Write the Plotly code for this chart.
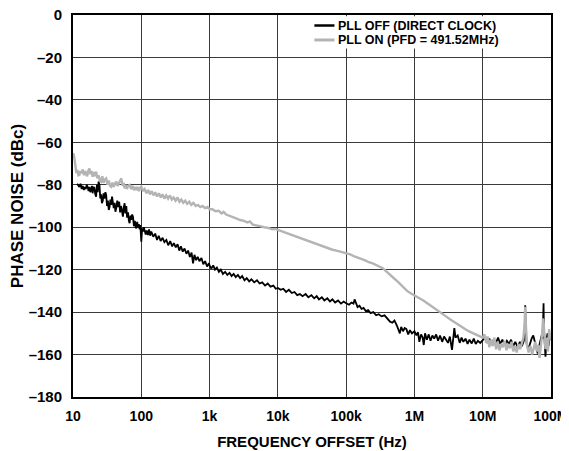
import plotly.graph_objects as go

# ---------------------------------------------------------------
# data
# ---------------------------------------------------------------
pll_off_freq = [
    11.5, 12.0, 12.4, 12.9, 13.4, 13.9, 14.4, 14.9, 15.4, 15.9, 16.4, 16.9, 17.4, 17.9,
    18.4, 18.9, 19.4, 19.9, 20.6, 21.2, 21.8, 22.4, 23.0, 23.7, 24.4, 25.1, 25.8, 26.5,
    27.3, 28.0, 28.9, 29.8, 30.6, 31.5, 32.4, 33.4, 34.3, 35.3, 36.3, 37.3, 38.3, 39.5,
    40.7, 41.8, 43.0, 44.5, 46.0, 47.5, 49.0, 50.5, 52.0, 53.8, 55.5, 57.0, 58.5, 60.3,
    62.0, 64.0, 65.8, 67.5, 69.5, 71.5, 73.5, 75.6, 78.0, 80.5, 82.5, 84.5, 87.0, 89.5,
    92.0, 94.5, 97.0, 100, 103, 106, 109, 112, 116,
    120, 125, 130, 135, 140, 150, 160, 170, 180, 192, 205, 218, 233, 248, 265, 283, 300,
    320, 340, 360, 380, 405, 430, 458, 485, 515, 545, 573, 600, 635, 670, 710, 760, 810,
    860, 920, 980,
    1000, 1060, 1130, 1200, 1280, 1370, 1460, 1570, 1690, 1820, 1960, 2100, 2250, 2420,
    2600, 2800, 3000, 3250, 3500, 3800, 4100, 4500, 4950, 5400, 5900, 6500, 7100, 7800,
    8600, 9300,
    10e3, 11e3, 12e3, 13.2e3, 14.5e3, 16e3, 17.5e3, 19.2e3, 21e3, 23e3, 25.5e3, 28e3,
    31e3, 34e3, 37e3, 40e3, 44e3, 48e3, 53e3, 58e3, 63e3, 69e3, 76e3, 84e3, 92e3,
    100e3, 110e3, 120e3, 128e3, 133e3, 140e3, 147e3, 157e3, 168e3, 180e3, 194e3, 210e3,
    228e3, 250e3, 275e3, 300e3, 330e3, 365e3, 404e3, 440e3, 474e3, 510e3, 556e3, 590e3,
    611e3, 640e3, 680e3, 720e3, 763e3, 810e3, 860e3, 920e3,
    1.0e6, 1.07e6, 1.13e6, 1.18e6, 1.25e6, 1.32e6, 1.37e6, 1.43e6, 1.52e6, 1.62e6,
    1.72e6, 1.83e6, 1.95e6, 2.08e6, 2.22e6, 2.37e6, 2.55e6, 2.72e6, 2.9e6, 3.1e6, 3.3e6,
    3.45e6, 3.55e6, 3.7e6, 3.84e6, 4.0e6, 4.3e6, 4.6e6, 4.9e6, 5.2e6, 5.6e6, 6.0e6,
    6.4e6, 6.9e6, 7.4e6, 7.9e6, 8.5e6, 9.2e6,
    10e6, 10.8e6, 11.6e6, 12.5e6, 13.5e6, 14.5e6, 15.6e6, 16.8e6, 18e6, 19.4e6, 21e6,
    22.6e6, 24.3e6, 26e6, 28e6, 30e6, 32.5e6, 35e6, 37.5e6, 40e6, 41.3e6, 41.9e6,
    42.5e6, 44e6, 46.5e6, 49e6, 52e6, 55e6, 58e6, 61e6, 64e6, 67e6, 70e6, 73e6, 75.5e6,
    77e6, 77.8e6, 78.6e6, 80.5e6, 83e6, 86e6, 89e6, 92e6, 96e6, 100e6,
]
pll_off_dbc = [
    -79.5, -80.5, -81.0, -79.5, -82.0, -80.5, -82.5, -81.0, -82.0, -80.0, -81.0, -83.0, -81.0, -83.5,
    -82.5, -80.5, -84.0, -81.0, -81.5, -84.5, -85.6, -80.0, -83.5, -78.5, -80.0, -86.5, -84.5, -88.7,
    -87.5, -84.0, -86.5, -83.5, -84.8, -90.0, -87.5, -91.9, -90.5, -87.0, -89.5, -85.6, -88.0, -91.0,
    -88.5, -92.7, -91.0, -87.5, -90.5, -88.0, -93.0, -90.0, -92.0, -95.0, -90.5, -88.7, -93.5, -90.0,
    -95.5, -93.0, -97.0, -98.1, -94.5, -96.5, -94.0, -95.0, -99.5, -97.0, -100.0, -100.5, -97.5, -100.0,
    -98.5, -101.0, -99.0, -106.8, -100.5, -102.0, -100.0, -101.3, -103.5,
    -101.5, -103.7, -101.0, -104.0, -102.0, -104.5, -103.0, -106.0, -104.0, -106.5, -105.0, -107.0, -106.0, -108.5, -106.5, -109.0, -107.5,
    -109.5, -108.0, -111.0, -109.0, -111.5, -110.0, -112.5, -111.0, -114.0, -112.0, -117.0, -113.0, -115.5, -114.0, -116.0, -114.5, -117.5,
    -116.0, -118.5, -117.0,
    -118.0, -119.5, -118.0, -120.0, -119.0, -121.0, -120.0, -122.0, -121.0, -122.5, -121.5, -123.0, -122.0, -123.5,
    -122.5, -124.0, -123.0, -125.0, -124.0, -125.5, -124.5, -126.0, -125.0, -126.5, -126.0, -127.5, -126.5, -128.0,
    -127.5, -129.0,
    -128.6, -129.5, -129.0, -130.5, -129.5, -131.0, -130.5, -132.0, -131.5, -132.5, -131.5, -133.0,
    -132.0, -133.5, -132.5, -134.0, -133.0, -134.5, -133.5, -135.0, -134.0, -135.5, -134.5, -136.0, -135.0,
    -135.8, -136.5, -135.5, -136.0, -134.0, -136.5, -137.6, -137.0, -138.5, -138.0, -139.5, -139.0,
    -140.5, -140.0, -141.5, -141.0, -142.0, -141.5, -143.0, -144.5, -145.0, -144.0, -146.5, -148.5,
    -150.0, -147.0, -149.0, -147.5, -148.0, -150.5, -148.5, -150.0,
    -149.0, -151.0, -149.5, -154.0, -150.5, -152.0, -155.5, -150.0, -153.0, -150.5,
    -153.5, -151.0, -152.5, -150.5, -153.5, -151.0, -154.0, -151.5, -153.0, -154.5, -151.5,
    -155.0, -157.8, -152.5, -147.5, -152.0, -151.0, -154.5, -152.0, -154.0, -152.5, -155.0,
    -153.0, -154.8, -152.5, -155.0, -153.5, -154.5,
    -153.0, -152.0, -154.5, -152.5, -155.0, -153.0, -154.5, -152.0, -155.0, -153.0, -155.5,
    -153.5, -155.0, -153.0, -156.0, -154.0, -156.5, -154.0, -156.0, -153.5, -147.0, -136.8,
    -148.0, -155.0, -157.5, -155.0, -152.5, -151.0, -154.0, -157.5, -159.5, -156.0, -152.5, -151.0, -152.5,
    -146.0, -135.8, -147.0, -155.0, -161.0, -153.0, -150.0, -156.0, -151.5, -153.0,
]

pll_on_freq = [
    10, 10.3, 10.6, 10.9, 11.2, 11.6, 12.0, 12.4, 12.8, 13.3, 13.9, 14.5, 15.0, 15.5,
    16.1, 16.7, 17.4, 18.0, 18.7, 19.4, 20.1, 20.9, 21.8, 22.7, 23.7, 24.7, 25.8, 26.9,
    28.0, 29.3, 30.6, 32.0, 33.4, 34.8, 36.2, 37.8, 39.5, 41.2, 43.0, 45.0, 47.0, 49.0,
    51.0, 53.2, 55.0, 56.9, 59.0, 61.5, 64.0, 67.5, 71.0, 74.5, 78.0, 81.5, 84.5, 88.0,
    92.0, 96.0,
    100, 106, 112, 119, 126, 134, 142, 151, 160, 170, 181, 193, 205, 218, 232, 247, 263,
    280, 298, 318, 340, 362, 386, 412, 440, 470, 505, 540, 580, 625, 675, 730, 790, 860, 930,
    1000, 1100, 1220, 1360, 1500, 1600, 1750, 1950, 2200, 2500, 2800, 3200, 3600, 3900,
    4300, 4800, 5500, 6300, 7200, 8300, 9200,
    10e3, 11.5e3, 13e3, 15e3, 17e3, 19.5e3, 22e3, 25e3, 29e3, 33e3, 38e3, 42e3, 48e3,
    55e3, 63e3, 72e3, 85e3,
    100e3, 115e3, 132e3, 150e3, 170e3, 190e3, 215e3, 245e3, 280e3, 320e3, 345e3, 380e3,
    420e3, 465e3, 515e3, 570e3, 630e3, 700e3, 780e3, 870e3,
    1.0e6, 1.15e6, 1.35e6, 1.6e6, 1.9e6, 2.2e6, 2.5e6, 2.9e6, 3.4e6, 4.0e6, 4.6e6, 5.3e6,
    6.2e6, 7.2e6, 8.3e6, 9.2e6,
    10e6, 10.6e6, 11.2e6, 11.8e6, 12.5e6, 13.2e6, 14e6, 14.8e6, 15.7e6, 16.6e6, 17.6e6,
    18.7e6, 19.8e6, 21e6, 22.3e6, 23.6e6, 25e6, 26.5e6, 28e6, 29.7e6, 31.5e6, 33.4e6,
    35.4e6, 37.5e6, 39.5e6, 41e6, 41.9e6, 43e6, 44.5e6, 47e6, 50e6, 53e6, 56e6, 59e6,
    62e6, 65e6, 68e6, 71e6, 74e6, 76.5e6, 78e6, 80e6, 83e6, 86e6, 90e6, 94e6, 97e6, 100e6,
]
pll_on_dbc = [
    -65.2, -66.0, -68.5, -72.0, -74.5, -73.0, -75.5, -75.4, -73.5, -74.5, -72.8, -75.5, -73.5, -74.6,
    -76.0, -73.5, -72.3, -75.0, -73.5, -76.2, -74.0, -76.0, -73.8, -77.0, -75.5, -78.0, -78.5, -76.0,
    -79.0, -77.5, -77.0, -80.0, -78.0, -80.5, -80.9, -79.0, -81.0, -79.5, -78.5, -80.5, -79.0, -77.5,
    -77.0, -80.5, -79.0, -81.7, -80.0, -82.0, -80.5, -80.1, -82.0, -80.5, -82.5, -81.0, -82.5, -81.0,
    -83.0, -81.5,
    -80.9, -83.0, -82.0, -84.0, -82.5, -84.5, -83.0, -85.0, -83.5, -85.5, -84.0, -86.0, -84.5, -86.5, -85.0, -86.5, -85.0,
    -87.0, -86.0, -87.5, -86.0, -88.0, -87.0, -88.5, -87.5, -89.0, -88.0, -89.5, -88.5, -90.0, -89.5, -90.5, -90.0, -91.0, -90.5,
    -91.5, -91.5, -92.5, -92.3, -93.5, -92.8, -94.0, -94.5, -95.3, -96.0, -96.6, -97.0, -97.8, -97.3,
    -98.8, -99.0, -99.5, -100.0, -100.3, -101.0, -100.8,
    -101.3, -102.0, -102.6, -103.5, -103.9, -104.6, -105.2, -106.0, -106.8, -107.3, -108.0, -108.4, -109.3,
    -109.9, -110.6, -111.0, -111.6,
    -112.0, -112.8, -113.8, -114.3, -115.0, -115.6, -116.5, -117.0, -117.9, -118.6, -119.3, -120.6,
    -122.0, -123.3, -124.4, -125.6, -127.0, -128.7, -130.0, -131.0,
    -132.0, -133.0, -134.5, -136.2, -138.0, -139.5, -140.6, -142.0, -143.6, -145.0, -146.0, -147.6,
    -149.0, -150.0, -150.8, -151.5,
    -152.0, -150.5, -154.5, -151.5, -156.5, -153.0, -156.0, -152.0, -157.5, -154.0, -158.0,
    -155.0, -156.5, -153.5, -158.0, -155.0, -157.0, -154.0, -158.5, -156.0, -159.0, -155.0,
    -157.5, -154.5, -152.0, -146.0, -137.5, -147.0, -155.5, -159.0, -156.0, -160.0, -157.0, -154.0,
    -158.5, -155.5, -161.6, -157.0, -150.5, -143.0, -145.0, -151.0, -157.5, -152.0, -158.5, -148.0, -153.0, -150.0,
]

x_tickvals = [10, 100, 1e3, 1e4, 1e5, 1e6, 1e7, 1e8]
x_ticktext = ["10", "100", "1k", "10k", "100k", "1M", "10M", "100M"]
y_tickvals = [0, -20, -40, -60, -80, -100, -120, -140, -160, -180]
y_ticktext = ["0", "–20", "–40", "–60", "–80", "–100", "–120", "–140", "–160", "–180"]

legend_names = ["PLL OFF (DIRECT CLOCK)", "PLL ON (PFD = 491.52MHz)"]

FONT = "Liberation Sans, Arial, sans-serif"
GRID = "#3a3a3a"
GRAY = "#b4b4b4"

fig = go.Figure()
fig.add_trace(go.Scatter(
    x=pll_off_freq, y=pll_off_dbc, mode="lines", name=legend_names[0],
    line=dict(color="black", width=1.8), showlegend=False
))
fig.add_trace(go.Scatter(
    x=pll_on_freq, y=pll_on_dbc, mode="lines", name=legend_names[1],
    line=dict(color=GRAY, width=2.4), showlegend=False
))

# legend drawn by hand (tight rows like the original)
row_y = [0.9725, 0.9346]
fig.add_shape(type="rect", xref="paper", yref="paper", x0=0.49, x1=0.997, y0=0.912, y1=0.997,
              fillcolor="white", line_width=0, layer="above")
fig.add_shape(type="line", xref="paper", yref="paper", x0=0.505, x1=0.547, y0=row_y[0], y1=row_y[0],
              line=dict(color="black", width=2.5), layer="above")
fig.add_shape(type="line", xref="paper", yref="paper", x0=0.505, x1=0.547, y0=row_y[1], y1=row_y[1],
              line=dict(color=GRAY, width=3), layer="above")
for name, yy in zip(legend_names, row_y):
    fig.add_annotation(text=name, xref="paper", yref="paper", x=0.551, y=yy,
                       xanchor="left", yanchor="middle", showarrow=False,
                       font=dict(family=FONT, size=12.5, color="black", weight="bold"))

# the page body adds an 8px margin, so the figure is 8px smaller than the window
fig.update_layout(
    width=561, height=443,
    margin=dict(l=65, r=18, t=7, b=54),
    paper_bgcolor="white", plot_bgcolor="white",
    font=dict(family=FONT, size=15, color="black", weight="bold"),
    showlegend=False,
)
fig.update_xaxes(
    type="log", range=[1, 8], automargin=False,
    tickvals=x_tickvals, ticktext=x_ticktext, ticklabeloverflow="allow",
    showgrid=True, gridcolor=GRID, gridwidth=1.3,
    showline=True, linecolor="black", linewidth=2, mirror=True,
    ticks="", ticklabelstandoff=5, zeroline=False,
    tickfont=dict(family=FONT, size=14, weight="bold"),
    title=dict(text="FREQUENCY OFFSET (Hz)", standoff=14,
               font=dict(family=FONT, size=15, weight="bold")),
)
fig.update_yaxes(
    range=[-180, 0], automargin=False,
    tickvals=y_tickvals, ticktext=y_ticktext, ticklabeloverflow="allow",
    showgrid=True, gridcolor=GRID, gridwidth=1.3,
    showline=True, linecolor="black", linewidth=2, mirror=True,
    ticks="", ticklabelstandoff=6, zeroline=False,
    tickfont=dict(family=FONT, size=15, weight="bold"),
    title=dict(text="PHASE NOISE (dBc)", standoff=2,
               font=dict(family=FONT, size=17, weight="bold")),
)

fig.write_html("out.html")
